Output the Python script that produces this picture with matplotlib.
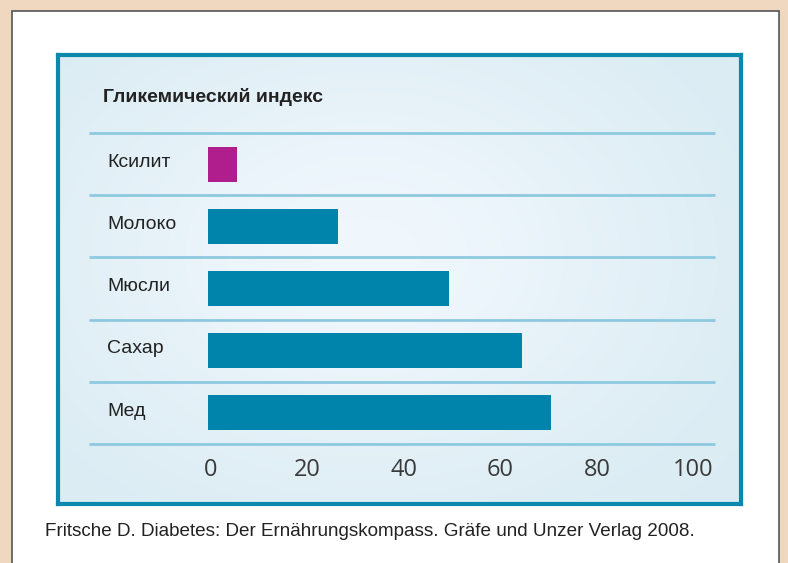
import numpy as np
import matplotlib
matplotlib.use("Agg")
import matplotlib.pyplot as plt
import matplotlib.transforms as mtransforms
from matplotlib.patches import Rectangle

# data
products = ["Ксилит", "Молоко", "Мюсли", "Сахар", "Мед"]
gi_values = [6, 27, 50, 65, 71]
bar_colors = ["#b01e8e", "#0084ab", "#0084ab", "#0084ab", "#0084ab"]
ticks = [0, 20, 40, 60, 80, 100]
title = "Гликемический индекс"
caption = "Fritsche D. Diabetes: Der Ernährungskompass. Gräfe und Unzer Verlag 2008."

W, H = 788, 563
fig = plt.figure(figsize=(W / 100, H / 100), dpi=100)
fig.patch.set_facecolor("#f0d8c0")

def box(x0, y0, x1, y1):
    # pixel box (top-left origin) -> figure fraction rect
    return [x0 / W, 1 - y1 / H, (x1 - x0) / W, (y1 - y0) / H]

# white page with thin dark frame (behind the axes)
fig.patches.append(Rectangle((12 / W, -0.01), (779 - 12) / W, 1 - 11 / H + 0.01,
                             transform=fig.transFigure, facecolor="white",
                             edgecolor="#555555", linewidth=1.2, zorder=-5))

# teal bordered panel with soft gradient
bg = fig.add_axes(box(58, 55, 741, 504))
bg.set_zorder(1)
yy, xx = np.mgrid[0:1:200j, 0:1:300j]
glow = np.exp(-(((xx - 0.45) / 0.45) ** 2 + ((yy - 0.45) / 0.5) ** 2))
c_edge = np.array([0.85, 0.92, 0.95])
c_mid = np.array([0.94, 0.97, 0.99])
img = c_edge + (c_mid - c_edge) * glow[..., None]
bg.imshow(img, aspect="auto", extent=[0, 1, 0, 1])
bg.set_xticks([])
bg.set_yticks([])
for s in bg.spines.values():
    s.set_color("#0a88ad")
    s.set_linewidth(3)

# chart area
ax = fig.add_axes(box(89, 133, 715, 444))
ax.set_zorder(2)
ax.set_facecolor("none")
px_per_unit = 4.825
zero_px = 208
ax.set_xlim((89 - zero_px) / px_per_unit, (715 - zero_px) / px_per_unit)
ax.set_ylim(len(products) - 0.5, -0.5)

ypos = np.arange(len(products))
ax.barh(ypos, gi_values, height=0.56, color=bar_colors, zorder=3)
ax.hlines(np.arange(len(products) + 1) - 0.5, *ax.get_xlim(), color="#8ec9e0",
          linewidth=2, zorder=2, clip_on=False)

for i, name in enumerate(products):
    ax.text(0.029, i - 0.03, name, transform=ax.get_yaxis_transform(),
            fontsize=14, family="Liberation Sans", color="#222222",
            va="center", ha="left")

ax.set_xticks(ticks)
ax.set_xticklabels([str(t) for t in ticks], fontsize=17, family="Open Sans",
                   color="#3a3a3a")
ax.tick_params(axis="x", length=0, pad=10)
shift = mtransforms.ScaledTranslation(3 / 100, 0, fig.dpi_scale_trans)
for lbl in ax.get_xticklabels():
    lbl.set_transform(lbl.get_transform() + shift)
ax.set_yticks([])
for s in ax.spines.values():
    s.set_visible(False)

fig.text(103 / W, 1 - 97 / H, title, fontsize=14, fontweight="bold",
         family="Liberation Sans", color="#222222", va="center", ha="left",
         zorder=5)
fig.text(45 / W, 1 - 531 / H, caption, fontsize=13.6, family="Liberation Sans",
         color="#222222", va="center", ha="left")

fig.savefig("out.png", dpi=100, facecolor=fig.get_facecolor())
